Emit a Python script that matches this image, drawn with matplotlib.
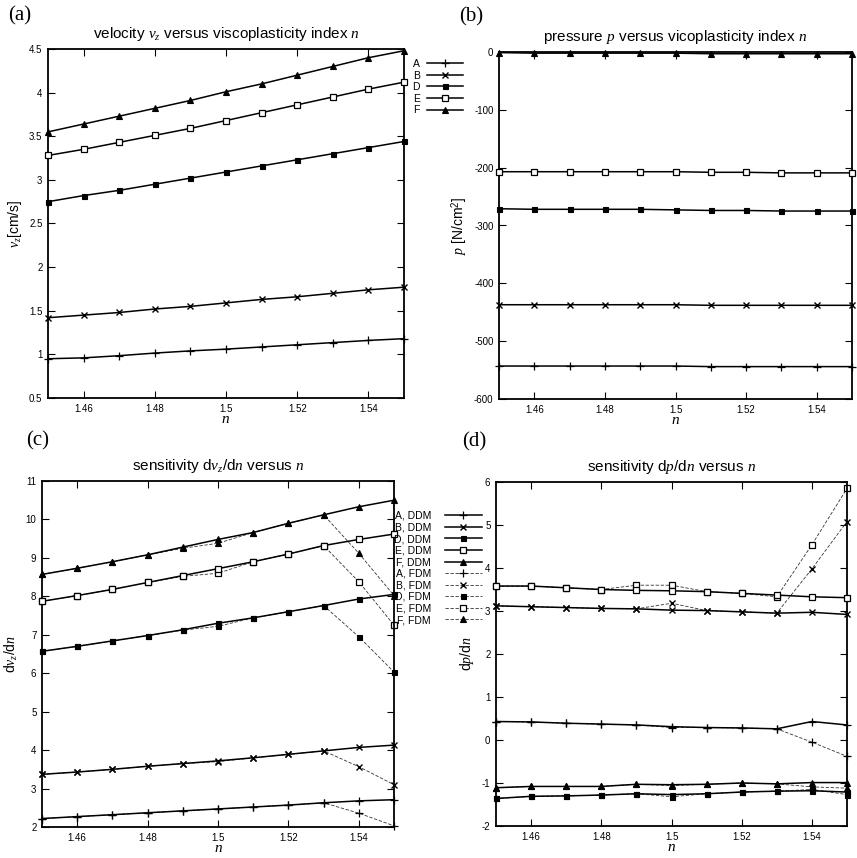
import matplotlib
matplotlib.use("Agg")
import matplotlib.pyplot as plt

plt.rcParams['font.family'] = ['Liberation Sans', 'DejaVu Sans']
plt.rcParams['axes.unicode_minus'] = False
plt.rcParams['mathtext.fontset'] = 'custom'
plt.rcParams['mathtext.it'] = 'Liberation Serif:italic'
plt.rcParams['mathtext.rm'] = 'Liberation Sans'

# ---------------- data ----------------
n_vals = [1.45, 1.46, 1.47, 1.48, 1.49, 1.50, 1.51, 1.52, 1.53, 1.54, 1.55]
x_ticks = [1.46, 1.48, 1.50, 1.52, 1.54]
x_tick_labels = ["1.46", "1.48", "1.5", "1.52", "1.54"]
series_names = ["A", "B", "D", "E", "F"]

# (a) velocity v_z [cm/s]
vel_A = [0.95, 0.96, 0.985, 1.015, 1.04, 1.06, 1.085, 1.11, 1.135, 1.16, 1.18]
vel_B = [1.42, 1.45, 1.48, 1.52, 1.55, 1.59, 1.63, 1.66, 1.70, 1.74, 1.77]
vel_D = [2.75, 2.82, 2.88, 2.95, 3.02, 3.09, 3.16, 3.23, 3.30, 3.37, 3.44]
vel_E = [3.28, 3.35, 3.43, 3.51, 3.59, 3.68, 3.77, 3.86, 3.95, 4.04, 4.12]
vel_F = [3.55, 3.64, 3.73, 3.82, 3.91, 4.01, 4.10, 4.20, 4.30, 4.40, 4.48]

# (b) pressure p [N/cm^2]
pres_A = [-543, -543, -543, -543, -543, -543, -544, -544, -544, -544, -544]
pres_B = [-437, -437, -437, -437, -437, -437, -438, -438, -438, -438, -438]
pres_D = [-271, -272, -272, -272, -272, -273, -274, -274, -275, -275, -275]
pres_E = [-207, -207, -207, -207, -207, -207, -208, -208, -209, -209, -209]
pres_F = [-1, -2, -2, -2, -2, -2, -3, -3, -3, -3, -3]

# (c) sensitivity dv_z/dn
dv_A_ddm = [2.22, 2.27, 2.32, 2.37, 2.42, 2.47, 2.52, 2.57, 2.63, 2.68, 2.71]
dv_B_ddm = [3.37, 3.43, 3.50, 3.58, 3.65, 3.72, 3.80, 3.89, 3.98, 4.07, 4.13]
dv_D_ddm = [6.57, 6.70, 6.84, 6.98, 7.13, 7.30, 7.44, 7.60, 7.76, 7.93, 8.05]
dv_E_ddm = [7.87, 8.02, 8.18, 8.36, 8.54, 8.72, 8.90, 9.10, 9.32, 9.48, 9.62]
dv_F_ddm = [8.57, 8.73, 8.90, 9.08, 9.28, 9.48, 9.66, 9.90, 10.12, 10.33, 10.50]
dv_A_fdm = [2.22, 2.27, 2.32, 2.37, 2.42, 2.47, 2.52, 2.57, 2.63, 2.36, 2.03]
dv_B_fdm = [3.37, 3.43, 3.50, 3.58, 3.65, 3.70, 3.80, 3.89, 3.98, 3.57, 3.10]
dv_D_fdm = [6.57, 6.70, 6.84, 6.98, 7.12, 7.22, 7.44, 7.60, 7.76, 6.95, 6.03]
dv_E_fdm = [7.87, 8.02, 8.18, 8.36, 8.52, 8.60, 8.90, 9.10, 9.32, 8.38, 7.25]
dv_F_fdm = [8.57, 8.73, 8.90, 9.08, 9.25, 9.38, 9.66, 9.90, 10.12, 9.12, 8.02]

# (d) sensitivity dp/dn
dp_A_ddm = [0.43, 0.42, 0.39, 0.37, 0.35, 0.31, 0.29, 0.28, 0.26, 0.43, 0.35]
dp_B_ddm = [3.12, 3.10, 3.08, 3.06, 3.05, 3.02, 3.01, 2.98, 2.95, 2.97, 2.92]
dp_D_ddm = [-1.36, -1.31, -1.30, -1.28, -1.25, -1.27, -1.25, -1.21, -1.19, -1.18, -1.21]
dp_E_ddm = [3.58, 3.58, 3.54, 3.50, 3.48, 3.47, 3.45, 3.41, 3.37, 3.33, 3.31]
dp_F_ddm = [-1.11, -1.08, -1.08, -1.08, -1.03, -1.04, -1.03, -1.00, -1.02, -0.99, -0.99]
dp_A_fdm = [0.43, 0.42, 0.39, 0.37, 0.35, 0.29, 0.29, 0.28, 0.26, -0.05, -0.38]
dp_B_fdm = [3.12, 3.10, 3.08, 3.06, 3.05, 3.18, 3.01, 2.98, 2.95, 3.98, 5.08]
dp_D_fdm = [-1.36, -1.31, -1.30, -1.28, -1.25, -1.32, -1.25, -1.21, -1.19, -1.15, -1.27]
dp_E_fdm = [3.58, 3.58, 3.54, 3.50, 3.60, 3.60, 3.45, 3.41, 3.33, 4.54, 5.85]
dp_F_fdm = [-1.11, -1.08, -1.08, -1.08, -1.03, -1.06, -1.03, -1.00, -1.02, -1.09, -1.12]

# ---------------- styles ----------------
marker_style = {
    "A": dict(marker="+", ms=5.5, mew=0.9, mfc="black"),
    "B": dict(marker="x", ms=4.0, mew=1.0, mfc="black"),
    "D": dict(marker="s", ms=3.6, mew=0.8, mfc="black"),
    "E": dict(marker="s", ms=5.0, mew=0.9, mfc="white"),
    "F": dict(marker="^", ms=3.8, mew=0.8, mfc="black"),
}

W, H = 857, 858
fig = plt.figure(figsize=(W / 100, H / 100), dpi=100)
fig.patch.set_facecolor("white")


def add_ax(l, r, t, b):
    return fig.add_axes([l / W, 1 - b / H, (r - l) / W, (b - t) / H])


def style_ax(ax, ylim, yticks, title, ylabel, ylabelpad):
    ax.set_xlim(1.45, 1.55)
    ax.set_ylim(*ylim)
    ax.set_xticks(x_ticks)
    ax.set_xticklabels(x_tick_labels)
    ax.set_yticks(yticks)
    ax.set_yticklabels([("%g" % v) for v in yticks])
    ax.tick_params(direction="in", top=True, right=True, length=5, width=0.8,
                   labelsize=7, pad=4)
    for s in ax.spines.values():
        s.set_linewidth(1.3)
    ax.set_title(title, fontsize=11, pad=8)
    ax.set_xlabel("$n$", fontsize=11, labelpad=-1)
    ax.set_ylabel(ylabel, fontsize=10, labelpad=ylabelpad)


def plot_series(ax, y, name, fdm=False):
    st = marker_style[name]
    if fdm:
        return ax.plot(n_vals, y, color="#333333", lw=0.6, ls=(0, (4, 2)),
                       mec="black", clip_on=False, zorder=2, **st)[0]
    return ax.plot(n_vals, y, color="black", lw=1.1, mec="black",
                   clip_on=False, zorder=3, **st)[0]


# (a)
axa = add_ax(48, 404, 49, 398)
ha = []
for name, y in zip(series_names, [vel_A, vel_B, vel_D, vel_E, vel_F]):
    ha.append(plot_series(axa, y, name))
style_ax(axa, (0.5, 4.5), [0.5, 1, 1.5, 2, 2.5, 3, 3.5, 4, 4.5],
         "velocity $v_z$ versus viscoplasticity index $n$",
         "$v_z$[cm/s]", 4)
fig.legend(ha, series_names, loc="upper left",
           bbox_to_anchor=(412 / W, 1 - 59 / H), markerfirst=False,
           frameon=False, fontsize=7.5, handlelength=3.5, handletextpad=0.7,
           labelspacing=0.15, borderpad=0, borderaxespad=0)

# (b)
axb = add_ax(499, 852, 52, 399)
for name, y in zip(series_names, [pres_A, pres_B, pres_D, pres_E, pres_F]):
    plot_series(axb, y, name)
style_ax(axb, (-600, 0), [0, -100, -200, -300, -400, -500, -600],
         "pressure $p$ versus vicoplasticity index $n$",
         "$p$ [N/cm$^2$]", 3)

# (c)
axc = add_ax(42, 394, 481, 827)
hc_d, hc_f = [], []
for name, y in zip(series_names, [dv_A_ddm, dv_B_ddm, dv_D_ddm, dv_E_ddm, dv_F_ddm]):
    hc_d.append(plot_series(axc, y, name))
for name, y in zip(series_names, [dv_A_fdm, dv_B_fdm, dv_D_fdm, dv_E_fdm, dv_F_fdm]):
    hc_f.append(plot_series(axc, y, name, fdm=True))
style_ax(axc, (2, 11), list(range(2, 12)),
         "sensitivity d$v_z$/d$n$ versus $n$", "d$v_z$/d$n$", 4)
labels_c = [s + ", DDM" for s in series_names] + [s + ", FDM" for s in series_names]
fig.legend(hc_d + hc_f, labels_c, loc="upper left",
           bbox_to_anchor=(394 / W, 1 - 511 / H), markerfirst=False,
           frameon=False, fontsize=7.5, handlelength=3.6, handletextpad=1.3,
           labelspacing=0.15, borderpad=0, borderaxespad=0)

# (d)
axd = add_ax(496, 847, 482, 826)
for name, y in zip(series_names, [dp_A_ddm, dp_B_ddm, dp_D_ddm, dp_E_ddm, dp_F_ddm]):
    plot_series(axd, y, name)
for name, y in zip(series_names, [dp_A_fdm, dp_B_fdm, dp_D_fdm, dp_E_fdm, dp_F_fdm]):
    plot_series(axd, y, name, fdm=True)
style_ax(axd, (-2, 6), list(range(-2, 7)),
         "sensitivity d$p$/d$n$ versus $n$", "d$p$/d$n$", 4)

# panel letters
for lbl, (px, py) in zip(["(a)", "(b)", "(c)", "(d)"],
                         [(8, 16), (459, 17), (26, 441), (462, 442)]):
    fig.text(px / W, 1 - py / H, lbl, fontsize=15, family="Liberation Serif",
             ha="left", va="center")

fig.savefig("out.png", dpi=100, facecolor="white")
